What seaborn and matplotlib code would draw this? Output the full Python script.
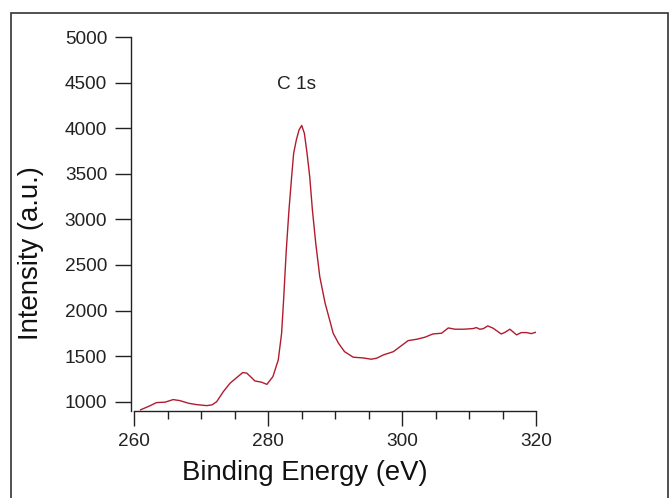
import matplotlib
matplotlib.use("Agg")
import matplotlib.pyplot as plt
import seaborn as sns
import pandas as pd
from matplotlib.patches import Rectangle
from matplotlib.ticker import MultipleLocator

# ------------------------ Data ------------------------
binding_energy = [260.9, 262.3, 263.3, 264.6, 265.8, 266.8, 268.1, 269.3, 270.8, 271.6,
                  272.3, 273.3, 274.3, 275.3, 276.2, 276.8, 277.5, 278.0, 279.0, 279.8,
                  280.7, 281.5, 282.0, 282.3, 282.7, 283.1, 283.5, 283.8, 284.2, 284.6,
                  285.0, 285.4, 285.8, 286.2, 286.6, 287.1, 287.7, 288.5, 289.2, 289.7,
                  290.5, 291.4, 292.7, 294.2, 295.4, 296.2, 297.2, 298.7, 299.7, 300.9,
                  302.2, 303.4, 304.6, 305.9, 306.9, 307.9, 309.2, 310.6, 311.1, 311.6,
                  312.1, 312.8, 313.6, 314.8, 315.3, 316.1, 317.1, 317.8, 318.6, 319.3,
                  320.0]
intensity = [910, 954, 990, 995, 1023, 1012, 983, 968, 957, 965,
             1000, 1111, 1203, 1265, 1320, 1313, 1265, 1228, 1214, 1190,
             1275, 1458, 1750, 2120, 2664, 3103, 3468, 3725, 3871, 3980,
             4030, 3944, 3725, 3468, 3103, 2738, 2372, 2080, 1890, 1751,
             1641, 1549, 1488, 1480, 1466, 1477, 1513, 1549, 1604, 1670,
             1685, 1707, 1743, 1751, 1809, 1795, 1795, 1802, 1813, 1795,
             1800, 1831, 1806, 1743, 1758, 1795, 1733, 1758, 1758, 1747,
             1762]
x_ticks = [260, 280, 300, 320]
y_ticks = [1000, 1500, 2000, 2500, 3000, 3500, 4000, 4500, 5000]
peak_label = "C 1s"

spectrum = pd.DataFrame({"energy": binding_energy, "intensity": intensity})

# ------------------------ Plot ------------------------
sns.set_style("ticks")
plt.rcParams["font.family"] = ["Liberation Sans", "DejaVu Sans"]

fig = plt.figure(figsize=(6.72, 4.98), dpi=100)
ax = fig.add_axes([0.1999, 0.1747, 0.5977, 0.7510])

sns.lineplot(data=spectrum, x="energy", y="intensity", ax=ax,
             color="#b01c2e", linewidth=1.0, sort=False)

ax.set_xlim(260, 320)
ax.set_ylim(898, 5000)
ax.set_xticks(x_ticks)
ax.set_yticks(y_ticks)
ax.xaxis.set_minor_locator(MultipleLocator(5))

sns.despine(ax=ax)
ax.spines["left"].set_position(("outward", 2.2))
for side in ["left", "bottom"]:
    ax.spines[side].set_color("#222222")
    ax.spines[side].set_linewidth(1.0)

ax.tick_params(axis="y", which="major", length=11.5, width=1.0, pad=5.8,
               labelsize=13.7, colors="#222222")
ax.tick_params(axis="x", which="major", length=10.8, width=1.0, pad=5,
               labelsize=13.7, colors="#222222")
ax.tick_params(axis="x", which="minor", length=5.8, width=1.0, colors="#222222")

ax.set_xlabel("Binding Energy (eV)", fontsize=19.8, color="#111111")
ax.set_ylabel("Intensity (a.u.)", fontsize=19.8, color="#111111")
ax.xaxis.set_label_coords(0.424, -0.131)
ax.xaxis.label.set_va("top")
ax.yaxis.set_label_coords(-0.258, 0.422)
ax.yaxis.label.set_va("center")

ax.text(284.2, 4474, peak_label, ha="center", va="center", fontsize=13.7, color="#222222")

# thin frame around the picture (open at the bottom)
frame = Rectangle((11 / 672, -0.2), (668 - 11) / 672, 1.2 - 13 / 498,
                  transform=fig.transFigure, fill=False, edgecolor="#333333",
                  linewidth=1.2, clip_on=False)
fig.patches.append(frame)

fig.savefig("out.png", dpi=100)
